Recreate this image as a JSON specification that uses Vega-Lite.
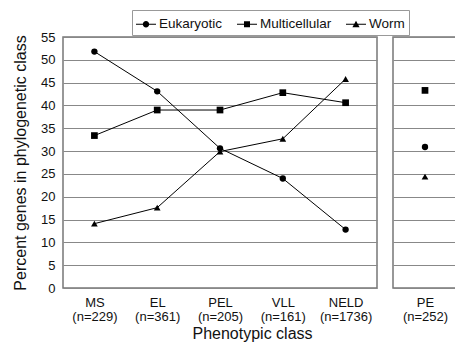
{
  "$schema": "https://vega.github.io/schema/vega-lite/v6.json",
  "padding": {"left": 11, "top": 9, "right": 0, "bottom": 0},
  "datasets": {
    "left": [
      {"series": "Eukaryotic", "cls": "MS (n=229)", "value": 51.8},
      {"series": "Eukaryotic", "cls": "EL (n=361)", "value": 43.1},
      {"series": "Eukaryotic", "cls": "PEL (n=205)", "value": 30.6},
      {"series": "Eukaryotic", "cls": "VLL (n=161)", "value": 24.0},
      {"series": "Eukaryotic", "cls": "NELD (n=1736)", "value": 12.8},
      {"series": "Multicellular", "cls": "MS (n=229)", "value": 33.4},
      {"series": "Multicellular", "cls": "EL (n=361)", "value": 39.0},
      {"series": "Multicellular", "cls": "PEL (n=205)", "value": 39.0},
      {"series": "Multicellular", "cls": "VLL (n=161)", "value": 42.8},
      {"series": "Multicellular", "cls": "NELD (n=1736)", "value": 40.6},
      {"series": "Worm", "cls": "MS (n=229)", "value": 14.1},
      {"series": "Worm", "cls": "EL (n=361)", "value": 17.6},
      {"series": "Worm", "cls": "PEL (n=205)", "value": 29.9},
      {"series": "Worm", "cls": "VLL (n=161)", "value": 32.7},
      {"series": "Worm", "cls": "NELD (n=1736)", "value": 45.8}
    ],
    "right": [
      {"series": "Eukaryotic", "cls": "PE (n=252)", "value": 30.9},
      {"series": "Multicellular", "cls": "PE (n=252)", "value": 43.3},
      {"series": "Worm", "cls": "PE (n=252)", "value": 24.4}
    ]
  },
  "config": {
    "font": "Liberation Sans",
    "view": {"stroke": "#777", "strokeWidth": 1.5},
    "axis": {"labelFont": "Liberation Sans", "titleFont": "Liberation Sans", "labelColor": "#111", "titleColor": "#111", "titleFontWeight": "normal", "labelFontSize": 13, "titleFontSize": 16, "domain": false, "ticks": false, "gridColor": "#888", "gridWidth": 1},
    "legend": {"labelFont": "Liberation Sans", "labelFontSize": 13.5, "labelColor": "#111", "symbolStrokeWidth": 0, "symbolFillColor": "black", "symbolOpacity": 1}
  },
  "spacing": 14,
  "hconcat": [
    {
      "width": 314,
      "height": 251,
      "data": {"name": "left"},
      "encoding": {
        "x": {"field": "cls", "type": "nominal", "sort": null,
          "scale": {"paddingInner": 0, "paddingOuter": 0},
          "axis": {"labelAngle": 0, "labelExpr": "split(datum.value, ' ')", "labelPadding": 8, "labelLineHeight": 14, "title": "Phenotypic class", "titleX": 189, "titlePadding": 2, "grid": false}},
        "y": {"field": "value", "type": "quantitative",
          "scale": {"domain": [0, 55], "nice": false},
          "axis": {"values": [0,5,10,15,20,25,30,35,40,45,50,55], "title": "Percent genes in phylogenetic class", "labelPadding": 8, "titlePadding": 12, "grid": true}}
      },
      "layer": [
        {"mark": {"type": "line", "color": "black", "strokeWidth": 1}, "encoding": {"detail": {"field": "series"}}},
        {"transform": [{"filter": "datum.series == 'Eukaryotic'"}], "mark": {"type": "point", "shape": "circle", "filled": true, "color": "black", "opacity": 1, "size": 40}},
        {"transform": [{"filter": "datum.series == 'Multicellular'"}], "mark": {"type": "point", "shape": "square", "filled": true, "color": "black", "opacity": 1, "size": 45}},
        {"transform": [{"filter": "datum.series == 'Worm'"}], "mark": {"type": "point", "shape": "triangle-up", "filled": true, "color": "black", "opacity": 1, "size": 45}},
        {"mark": {"type": "point", "filled": true, "color": "black", "opacity": 0, "size": 400},
          "encoding": {"shape": {"field": "series", "type": "nominal",
            "scale": {"domain": ["Eukaryotic", "Multicellular", "Worm"], "range": ["M-1,-0.05H1V0.05H-1ZM-0.32,0A0.32,0.32 0 1,1 0.32,0A0.32,0.32 0 1,1 -0.32,0Z", "M-1,-0.05H1V0.05H-1ZM-0.3,-0.3H0.3V0.3H-0.3Z", "M-1,-0.05H1V0.05H-1ZM-0.36,0.3L0,-0.36L0.36,0.3Z"]},
            "legend": {"title": null, "orient": "none", "direction": "horizontal", "legendX": 69, "legendY": -27, "symbolSize": 400, "labelOffset": 3, "columnPadding": 14, "padding": 4, "strokeColor": "#999", "fillColor": "white", "symbolOpacity": 1, "symbolStrokeWidth": 0, "symbolFillColor": "black"}}}}
      ]
    },
    {
      "width": 64,
      "height": 251,
      "data": {"name": "right"},
      "encoding": {
        "x": {"field": "cls", "type": "nominal",
          "scale": {"paddingInner": 0, "paddingOuter": 0},
          "axis": {"labelAngle": 0, "labelExpr": "split(datum.value, ' ')", "labelPadding": 8, "labelLineHeight": 14, "title": null, "grid": false}},
        "y": {"field": "value", "type": "quantitative",
          "scale": {"domain": [0, 55], "nice": false},
          "axis": {"values": [0,5,10,15,20,25,30,35,40,45,50,55], "title": null, "labels": false, "grid": true}}
      },
      "layer": [
        {"transform": [{"filter": "datum.series == 'Eukaryotic'"}], "mark": {"type": "point", "shape": "circle", "filled": true, "color": "black", "opacity": 1, "size": 40}},
        {"transform": [{"filter": "datum.series == 'Multicellular'"}], "mark": {"type": "point", "shape": "square", "filled": true, "color": "black", "opacity": 1, "size": 45}},
        {"transform": [{"filter": "datum.series == 'Worm'"}], "mark": {"type": "point", "shape": "triangle-up", "filled": true, "color": "black", "opacity": 1, "size": 45}}
      ]
    }
  ]
}
